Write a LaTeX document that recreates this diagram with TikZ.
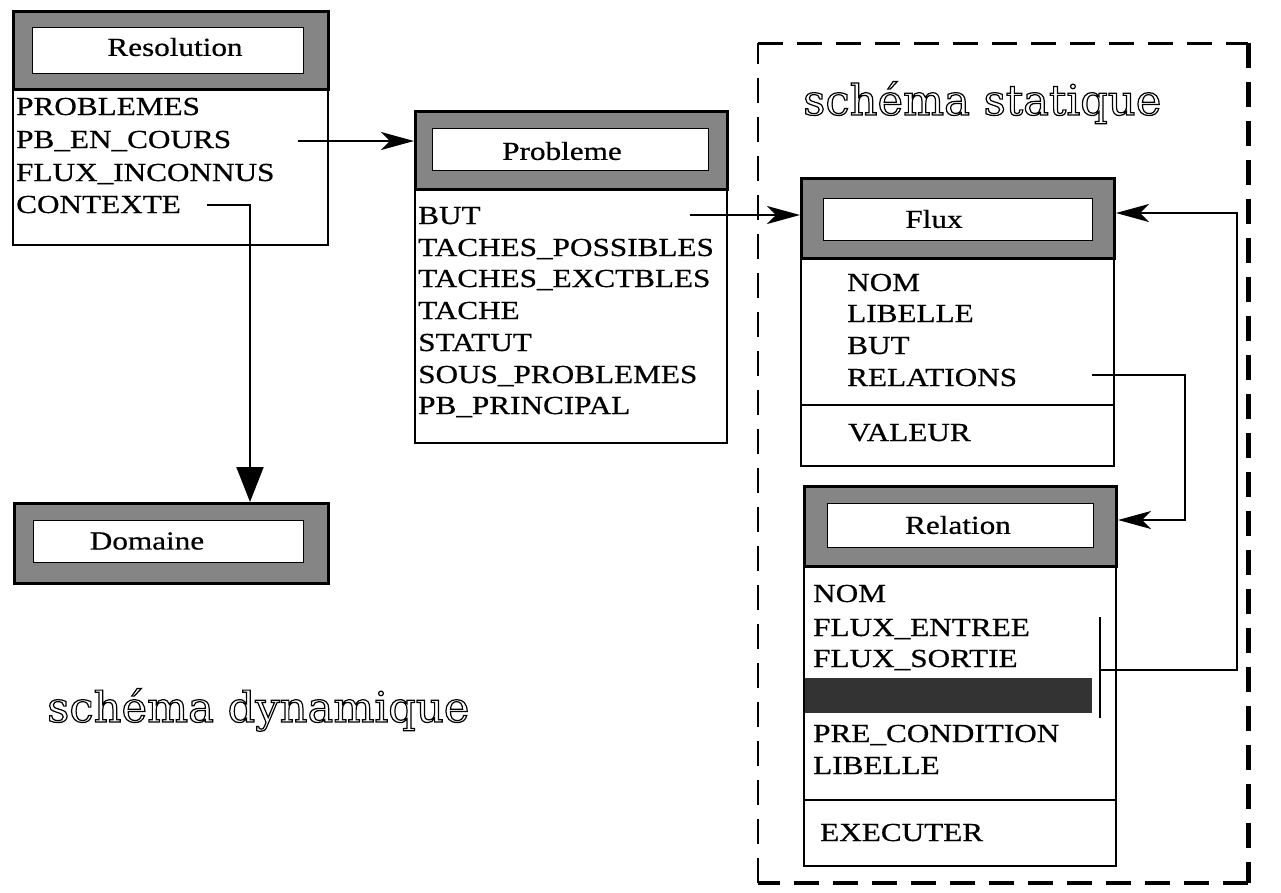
\documentclass[tikz,border=0pt]{standalone}
\usepackage{fontspec}
\setmainfont{Liberation Serif}[FakeStretch=1.2, FakeBold=0.6]
\newfontfamily\outlinefont{DejaVu Serif}[FakeStretch=1.03]
\usetikzlibrary{arrows.meta}
\newcommand{\outlinetext}[1]{\special{pdf:literal direct 1 Tr 1.2 w}#1\special{pdf:literal direct 0 Tr}}
\begin{document}
\begin{tikzpicture}[x=1pt,y=-1pt,
  hdr/.style={draw=black, line width=3pt, fill=black!48, inner sep=0pt, anchor=north west},
  inr/.style={draw=black, line width=1pt, fill=white, inner sep=0pt, anchor=north west},
  bodybox/.style={draw=black, line width=1.8pt, fill=white, inner sep=0pt, anchor=north west},
  ttl/.style={inner sep=0pt, font=\fontsize{26}{30}\selectfont},
  attr/.style={anchor=base west, inner sep=0pt, font=\fontsize{26}{30}\selectfont},
  conn/.style={draw=black, line width=2pt},
  arr/.style={conn, -{Stealth[length=33pt, width=18pt, inset=9pt]}},
  bigarr/.style={conn, -{Triangle[length=35pt, width=27pt]}},
  outl/.style={anchor=base west, inner sep=0pt, font=\outlinefont\fontsize{42}{48}\selectfont},
  frame/.style={draw=black, dash pattern=on 25pt off 14pt}
]
\useasboundingbox (0,0) rectangle (1281,892);

% ---------- dashed frame (schema statique) ----------
\draw[frame, line width=3pt] (758,43) -- (1248,43);
\draw[frame, line width=5pt] (1248,43) -- (1248,883);
\draw[frame, line width=3.5pt] (1248,883) -- (758,883);
\draw[frame, line width=2.5pt] (758,883) -- (758,43);

\node[outl] (stat) at (803,115) {\outlinetext{schéma statique}};
\node[outl] (dyn) at (47,722) {\outlinetext{schéma dynamique}};

% ---------- Resolution ----------
\node[bodybox, minimum width=315pt, minimum height=156pt] (resbody) at (12,88) {};
\node[hdr, minimum width=315pt, minimum height=78pt] (reshdr) at (12,10) {};
\node[inr, minimum width=271pt, minimum height=46pt] (resinr) at (32,27) {};
\node[ttl] (restit) at (175,47) {Resolution};
\node[attr] (r1) at (16,115) {PROBLEMES};
\node[attr] (r2) at (16,148) {PB\_EN\_COURS};
\node[attr] (r3) at (16,181) {FLUX\_INCONNUS};
\node[attr] (r4) at (16,213) {CONTEXTE};

% ---------- Probleme ----------
\node[bodybox, minimum width=312pt, minimum height=254pt] (probbody) at (414,188) {};
\node[hdr, minimum width=312pt, minimum height=78pt] (probhdr) at (414,110) {};
\node[inr, minimum width=276pt, minimum height=42pt] (probinr) at (432,128) {};
\node[ttl] (probtit) at (562,151) {Probleme};
\node[attr] (p1) at (418,224) {BUT};
\node[attr] (p2) at (418,256) {TACHES\_POSSIBLES};
\node[attr] (p3) at (418,287) {TACHES\_EXCTBLES};
\node[attr] (p4) at (418,319) {TACHE};
\node[attr] (p5) at (418,351) {STATUT};
\node[attr] (p6) at (418,383) {SOUS\_PROBLEMES};
\node[attr] (p7) at (418,414) {PB\_PRINCIPAL};

% ---------- Domaine ----------
\node[hdr, minimum width=314pt, minimum height=80pt] (domhdr) at (13,502) {};
\node[inr, minimum width=270pt, minimum height=42pt] (dominr) at (33,520) {};
\node[ttl] (domtit) at (147,541) {Domaine};

% ---------- Flux ----------
\node[bodybox, minimum width=313pt, minimum height=208pt] (fluxbody) at (800,257) {};
\draw[line width=1.8pt] (800,405) -- (1113,405);
\node[hdr, minimum width=313pt, minimum height=80pt] (fluxhdr) at (800,177) {};
\node[inr, minimum width=269pt, minimum height=42pt] (fluxinr) at (823,198) {};
\node[ttl] (fluxtit) at (934,219) {Flux};
\node[attr] (f1) at (847,291) {NOM};
\node[attr] (f2) at (847,322) {LIBELLE};
\node[attr] (f3) at (847,354) {BUT};
\node[attr] (f4) at (847,386) {RELATIONS};
\node[attr] (f5) at (848,441) {VALEUR};

% ---------- Relation ----------
\node[bodybox, minimum width=312pt, minimum height=300pt] (relbody) at (803,565) {};
\draw[line width=1.8pt] (803,800) -- (1115,800);
\node[hdr, minimum width=312pt, minimum height=80pt] (relhdr) at (803,485) {};
\node[inr, minimum width=266pt, minimum height=44pt] (relinr) at (827,503) {};
\node[ttl] (reltit) at (958,525) {Relation};
\node[attr] (e1) at (813,602) {NOM};
\node[attr] (e2) at (813,636) {FLUX\_ENTREE};
\node[attr] (e3) at (813,667) {FLUX\_SORTIE};
\fill[black!80] (805,678) rectangle (1092,713);
\node[attr] (e5) at (813,742) {PRE\_CONDITION};
\node[attr] (e6) at (813,774) {LIBELLE};
\node[attr] (e7) at (820,841) {EXECUTER};

% ---------- connectors ----------
\coordinate (pbs) at (298,141);
\draw[arr] (pbs) -- (pbs -| probhdr.west);

\coordinate (ctx) at (207,205);
\coordinate (ctxturn) at (250,205);
\draw[bigarr] (ctx) -- (ctxturn) -- (ctxturn |- domhdr.north);

\coordinate (but) at (690,215);
\draw[arr] (but) -- (but -| fluxhdr.west);

\coordinate (rels) at (1092,375);
\coordinate (relturn) at (1185,375);
\coordinate (relin) at (1185,520);
\draw[arr] (rels) -- (relturn) -- (relin) -- (relin -| relhdr.east);

\coordinate (bartop) at (1100,617);
\coordinate (barbot) at (1100,718);
\coordinate (barmid) at (1100,670);
\coordinate (fxturn) at (1237,670);
\coordinate (fxtop) at (1237,213);
\draw[conn] (bartop) -- (barbot);
\draw[arr] (barmid) -- (fxturn) -- (fxtop) -- (fxtop -| fluxhdr.east);
\end{tikzpicture}
\end{document}
